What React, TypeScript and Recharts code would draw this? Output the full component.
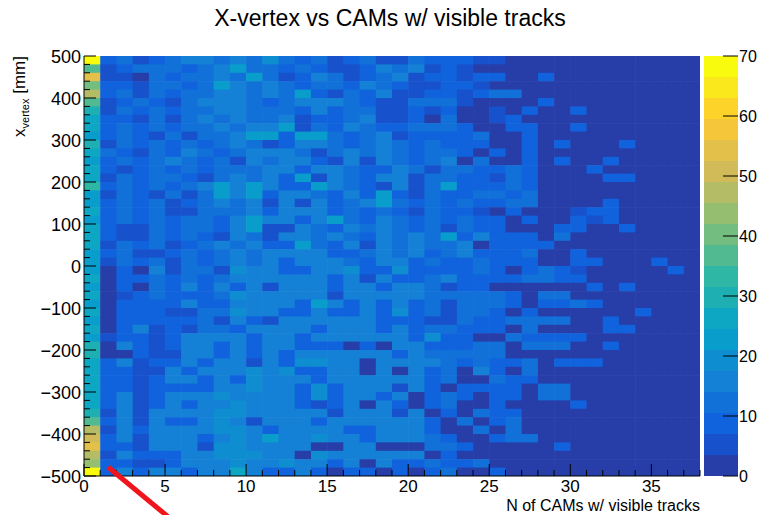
import React from 'react';
import { ScatterChart, Scatter, XAxis, YAxis, BarChart, Bar } from 'recharts';

// x bins: N of CAMs (0..38, width 1); y bins: x-vertex (-500..500, width 20)
const xBinCount = 38;
const yBinCount = 50;
const yMin = -500;
const yMax = 500;
const zMax = 70;
const nContours = 20;

// counts of the first column (0 CAMs), top row (480..500) first
const binZero = [
  68, 38, 54, 40, 47, 36, 31, 27, 25, 23,
  28, 25, 24, 26, 27, 33, 24, 23, 25, 24,
  27, 25, 26, 24, 23, 24, 25, 22, 26, 23,
  26, 24, 25, 23, 28, 31, 25, 27, 25, 27,
  25, 26, 30, 36, 46, 49, 53, 47, 45, 68,
];

// columns 1..37, one base-36 digit per bin (count), top row first
const countRows = [
  '9c59cffcfc jc9c59c55c 9995522221 1000000',
  '59ccc9cfmc c9c9559fcf 5952222211 0000000',
  '552c9ccfcm c59fc59cf5 9959922921 0000000',
  '995cc9cmfc fc9cc9fc95 5995222221 0000000',
  '9c5c9ccffc fcm95c9f55 9959cc2221 0000000',
  '59c95cfffc 9cfffc955c cc52222921 0000000',
  '5c9c9ccffc cc9f9cc559 5922529228 0000000',
  '995c5cfcfc cf599cf559 2c22592221 0000000',
  '9c9c9ccfcf fm5c9fc99c cc92299228 0000000',
  '9c95c5ccfm m9mmc9cf59 999c229221 0000000',
  '5c9c9c9cfc 59ffc9cfc9 c999229281 0180000',
  'c95c9fc9cf ffc5cfcfc9 cc92929221 0000000',
  '9c9cfc9c5f cff95f5fc9 cf2c229281 0800000',
  '959c9c9ccc ff9ffc99fc 5cc99c9221 8000000',
  '5c9cc95cfc f9m5fc9ff5 cc995c9222 1880000',
  '9c9c9cfmfm f99mfc95f5 cm999c9222 0000000',
  '5c95c5cmfm 9ffc9f9m95 c99cc9c222 0000000',
  '9c9c59cfcf 5f5f9cfmc9 c9c99cc222 0800000',
  '9c9c55cccf 9fff9c9c95 c995292225 8800000',
  '9c9c9cc9fm ff9fmc9fc9 c9c9929228 5800000',
  '955c9cc9fm 55fc9fcfc9 c5c9922298 1080000',
  '955c9c95fc 5ffcfc9fcf cm9f9992c2 0000000',
  '5c9c59cfcf 99mc9f5fcf ccf2999922 0000000',
  '9c559c9cfc ffff99cfcf 9cf999c228 0000000',
  '5c9c5c9cfc f9fffc9ff9 c99c999228 8000800',
  '393f5cc5jf f99ffj99j9 999c929c95 0000080',
  '399c9c9cff ffff9f5f99 cf9999cc98 0000000',
  '393c9f9f9f 5fff9ff9ff c599222222 8080000',
  '359c999cjf ffff5fffff ccccc92cc2 0000000',
  '39999f99ff ff9mf9f9f9 c5ccc9299c 8000000',
  '399955ccjf f99f99f9j9 c5cc929222 0008000',
  '399999c5f9 5ffffff999 55c99cccc2 2800000',
  '39f595cc9f fff9fff9f9 cc9992c222 2880000',
  '59959ffff9 ff9ffffff9 j9933c9999 2000000',
  '3f959ff9f9 ff999393ff 999cc3ccc2 2800000',
  '33955ff9f9 f9ffffff9f ccccc33222 2000000',
  '9f599f9ff5 f9jjff3fff fc9c99c299 9000000',
  '9955f9fffj fj99ff3f3f 9c3f93c222 0000000',
  '9959ff9f9j fff9ffffff 9c33c99222 0000000',
  '9959999ffj ff9j9fff5f 9399993cc2 0000000',
  '9f59fffjff ff9j9ff9f3 9c93993cc2 2000000',
  '9f59f9ffjf ff959f3f93 9c33933228 0000000',
  '5f5ffffjjf ffff5fff5f 393c992222 0000000',
  '9f5f99fjf5 fff9ffffff 93c39c2222 0000000',
  '5f9ffffjjf 9ffff99fff 933c3c2222 0000000',
  '9f5fff9fjf mffjff9fff c9339cc222 0000000',
  '995fff5jjf fff33ff333 cc93332292 0000000',
  '5f999ffjjj ff3jffffff 3933222221 0000000',
  '99559fffjf fjff9f3f99 c99c322221 0000000',
  '9f9ff9ffqf 99f9399393 9c33932221 0000000',
];

const xTicks = Array.from({ length: xBinCount + 1 }, (_, i) => i);
const yTicks = Array.from({ length: 51 }, (_, i) => yMin + i * 20);
const zTicks = [0, 10, 20, 30, 40, 50, 60, 70];

// ROOT kBird palette
const birdStops = [0, 0.125, 0.25, 0.375, 0.5, 0.625, 0.75, 0.875, 1];
const birdR = [0.2082, 0.0592, 0.078, 0.0232, 0.1802, 0.5301, 0.8186, 0.9956, 0.9764];
const birdG = [0.1664, 0.3599, 0.5041, 0.6419, 0.7178, 0.7492, 0.7328, 0.7862, 0.9832];
const birdB = [0.5293, 0.8684, 0.8385, 0.7914, 0.6425, 0.4662, 0.3499, 0.1968, 0.0539];

const birdColor = (f: number) => {
  let k = 0;
  while (k < birdStops.length - 2 && f > birdStops[k + 1]) k++;
  const t = (f - birdStops[k]) / (birdStops[k + 1] - birdStops[k]);
  const mix = (a: number[]) => Math.round(255 * (a[k] + (a[k + 1] - a[k]) * t));
  return `rgb(${mix(birdR)},${mix(birdG)},${mix(birdB)})`;
};

const bandColor = (band: number) => birdColor(Math.floor(((band + 0.99) * 255) / nContours) / 254);
const zColor = (v: number) =>
  bandColor(Math.min(nContours - 1, Math.max(0, Math.floor(v / (zMax / nContours)))));

const cells = countRows.flatMap((row, j) => {
  const digits = row.replace(/ /g, '');
  const yCenter = yMax - 20 * j - 10;
  const rest = Array.from({ length: xBinCount - 1 }, (_, i) => ({
    x: i + 1.5,
    y: yCenter,
    v: parseInt(digits[i] || '0', 36),
  }));
  return [{ x: 0.5, y: yCenter, v: binZero[j] }, ...rest];
});

const bandData = [
  Object.fromEntries(Array.from({ length: nContours }, (_, i) => [`b${i}`, zMax / nContours])),
];

const W = 763;
const H = 515;
const TOP = 56;
const RIGHT = 63;
const Y_AXIS_W = 84;
const X_AXIS_H = 39;
const CELL_W = (W - RIGHT - Y_AXIS_W) / xBinCount;
const CELL_H = (H - TOP - X_AXIS_H) / yBinCount;
const FONT = '"Liberation Sans", Arial, Helvetica, sans-serif';

const renderCell = (p: any) => (
  <rect
    x={p.cx - CELL_W / 2}
    y={p.cy - CELL_H / 2}
    width={CELL_W + 0.6}
    height={CELL_H + 0.6}
    fill={zColor(p.payload.v)}
  />
);

const XTick = ({ x, y, payload }: any) => {
  const major = payload.value % 5 === 0;
  return (
    <g>
      <line x1={x} x2={x} y1={y} y2={y - (major ? 12 : 6)} stroke="#000" />
      {major && (
        <text x={x} y={y + 16} textAnchor="middle" fontSize={17} fill="#000" fontFamily={FONT}>
          {payload.value}
        </text>
      )}
    </g>
  );
};

const YTick = ({ x, y, payload }: any) => {
  const major = payload.value % 100 === 0;
  const label = payload.value < 0 ? `\u2212${-payload.value}` : `${payload.value}`;
  return (
    <g>
      <line x1={x} x2={x + (major ? 12 : 6)} y1={y} y2={y} stroke="#000" />
      {major && (
        <text x={x - 3} y={y + 6.5} textAnchor="end" fontSize={18} fill="#000" fontFamily={FONT}>
          {label}
        </text>
      )}
    </g>
  );
};

const ZTick = ({ x, y, payload }: any) => (
  <g>
    <line x1={x - 15} x2={x} y1={y} y2={y} stroke="#000" />
    <text x={x + 1} y={y + 5.5} textAnchor="start" fontSize={16} fill="#000" fontFamily={FONT}>
      {payload.value}
    </text>
  </g>
);

const App: React.FC = () => {
  return (
    <div style={{ position: 'absolute', left: 0, top: 0, width: W, height: H, background: '#fff', fontFamily: FONT }}>
      <ScatterChart width={W} height={H} margin={{ top: TOP, right: RIGHT, bottom: 0, left: 0 }}>
        <Scatter data={cells} shape={renderCell} isAnimationActive={false} zIndex={100} />
        <XAxis
          type="number"
          dataKey="x"
          domain={[0, xBinCount]}
          ticks={xTicks}
          interval={0}
          tickSize={0}
          tickMargin={0}
          tickLine={false}
          axisLine={{ stroke: '#000' }}
          height={X_AXIS_H}
          allowDataOverflow
          tick={(p: any) => <XTick {...p} />}
          zIndex={1000}
          label={({ viewBox }: any) => (
            <text x={viewBox.x + viewBox.width} y={viewBox.y + 35} textAnchor="end" fontSize={16} fill="#000" fontFamily={FONT}>
              N of CAMs w/ visible tracks
            </text>
          )}
        />
        <YAxis
          type="number"
          dataKey="y"
          domain={[yMin, yMax]}
          ticks={yTicks}
          interval={0}
          tickSize={0}
          tickMargin={0}
          tickLine={false}
          axisLine={{ stroke: '#000' }}
          width={Y_AXIS_W}
          allowDataOverflow
          tick={(p: any) => <YTick {...p} />}
          zIndex={1000}
          label={({ viewBox }: any) => (
            <text
              x={viewBox.x + 25}
              y={viewBox.y}
              transform={`rotate(-90, ${viewBox.x + 25}, ${viewBox.y})`}
              textAnchor="end"
              fontSize={17}
              fill="#000"
              fontFamily={FONT}
            >
              <tspan>x</tspan>
              <tspan fontSize={11} dy={4}>vertex</tspan>
              <tspan dy={-4}> [mm]</tspan>
            </text>
          )}
        />
      </ScatterChart>
      <div style={{ position: 'absolute', left: 704, top: 0 }}>
        <BarChart width={W - 704} height={H} data={bandData} margin={{ top: TOP, right: 0, bottom: X_AXIS_H, left: 0 }} barCategoryGap={0}>
          <XAxis hide />
          <YAxis
            orientation="right"
            type="number"
            domain={[0, zMax]}
            ticks={zTicks}
            interval={0}
            tickSize={0}
            tickMargin={0}
            tickLine={false}
            axisLine={false}
            width={25}
            tick={(p: any) => <ZTick {...p} />}
            zIndex={1000}
          />
          {Array.from({ length: nContours }, (_, i) => (
            <Bar key={i} dataKey={`b${i}`} stackId="z" fill={bandColor(i)} isAnimationActive={false} />
          ))}
        </BarChart>
      </div>
      <svg width={W} height={H} style={{ position: 'absolute', left: 0, top: 0, pointerEvents: 'none' }}>
        <text x={390} y={26} textAnchor="middle" fontSize={23} fill="#000" fontFamily={FONT}>
          X-vertex vs CAMs w/ visible tracks
        </text>
        <line x1={108} y1={467} x2={172} y2={520} stroke="#f0141c" strokeWidth={5} />
      </svg>
    </div>
  );
};

export default App;
